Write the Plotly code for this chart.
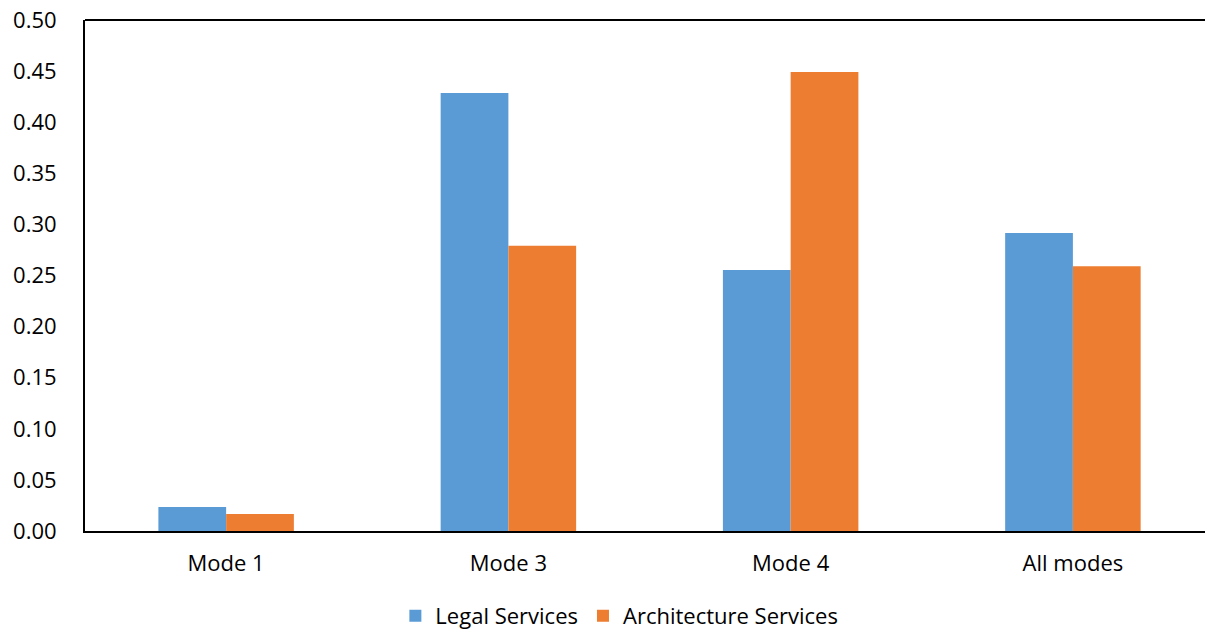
import plotly.graph_objects as go

categories = ["Mode 1", "Mode 3", "Mode 4", "All modes"]
legal = [0.0235, 0.4285, 0.2555, 0.2915]
architecture = [0.0166, 0.279, 0.449, 0.259]
y_ticks = [0.0, 0.05, 0.10, 0.15, 0.20, 0.25, 0.30, 0.35, 0.40, 0.45, 0.50]

FONT = "Open Sans"
FS = 22

fig = go.Figure()
fig.add_trace(go.Bar(name="Legal Services", x=categories, y=legal,
                     marker=dict(color="#5B9BD5", line=dict(width=0))))
fig.add_trace(go.Bar(name="Architecture Services", x=categories, y=architecture,
                     marker=dict(color="#ED7D31", line=dict(width=0))))

# top border of the plot area (no right border in the original)
fig.add_shape(type="line", xref="paper", yref="paper", x0=0, x1=1.01, y0=1, y1=1,
              line=dict(color="black", width=2))

fig.update_layout(
    width=1205, height=635,
    margin=dict(l=85, r=0, t=20, b=104, autoexpand=False),
    paper_bgcolor="white", plot_bgcolor="white",
    barmode="group", bargap=0.52, bargroupgap=0,
    font=dict(family=FONT, size=FS, color="black"),
    showlegend=True,
    legend=dict(orientation="h", xref="container", yref="container",
                x=0.514, xanchor="center", y=0.03, yanchor="middle",
                font=dict(family=FONT, size=22, color="black"),
                traceorder="normal"),
    xaxis=dict(type="category", range=[-0.5, 3.468], showline=True, mirror=False,
               linecolor="black", linewidth=2, showgrid=False, ticks="",
               ticklabelstandoff=12, tickfont=dict(family=FONT, size=FS)),
    yaxis=dict(range=[0, 0.5], tickvals=y_ticks, tickformat=".2f", showline=True,
               mirror=False, linecolor="black", linewidth=2, showgrid=False,
               zeroline=False, ticks="", ticklabelstandoff=22,
               tickfont=dict(family=FONT, size=FS)),
)

fig.write_html("out.html")
